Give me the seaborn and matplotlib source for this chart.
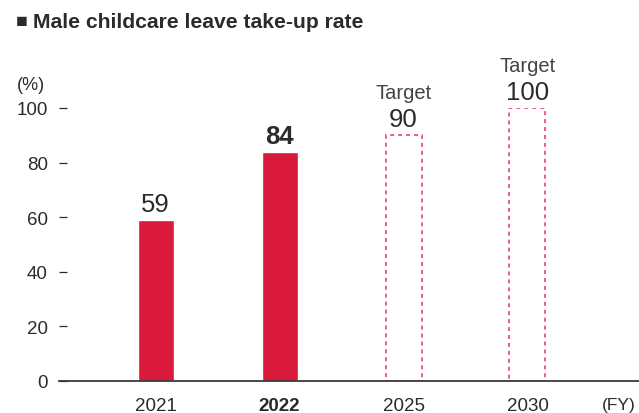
import pandas as pd
import matplotlib
matplotlib.use('Agg')
import matplotlib.pyplot as plt
import seaborn as sns

years = ['2021', '2022', '2025', '2030']
actual_years = ['2021', '2022']
actual_values = [59, 84]
target_years = ['2025', '2030']
target_values = [90, 100]
yticks = [0, 20, 40, 60, 80, 100]

red = '#DA1A3B'
light_red = '#E9536C'
dark = '#2B2B2B'

sns.set_theme(style='white')
plt.rcParams['font.family'] = ['Liberation Sans', 'DejaVu Sans']

actual = pd.DataFrame({'year': actual_years, 'value': actual_values})
target = pd.DataFrame({'year': target_years, 'value': target_values})

fig = plt.figure(figsize=(6.39, 4.14), dpi=100)
ax = fig.add_axes([59 / 639, 1 - 382 / 414, 1 - 59 / 639, (382 - 109) / 414])

sns.barplot(data=actual, x='year', y='value', order=years, color=red,
            width=0.29, saturation=1, ax=ax)
sns.barplot(data=target, x='year', y='value', order=years, color=light_red,
            width=0.29, saturation=1, fill=False, linewidth=1.3,
            linestyle=(0, (2.2, 2.2)), ax=ax)

ax.set_xlim(-0.78, 3.9)
ax.set_ylim(0, 100)
ax.set_yticks(yticks)
ax.set_xlabel('')
ax.set_ylabel('')
for s in ['top', 'right', 'left']:
    ax.spines[s].set_visible(False)
ax.spines['bottom'].set_color('#3A3A3A')
ax.spines['bottom'].set_linewidth(1.3)
ax.tick_params(axis='y', left=True, direction='in', length=6, width=0.9, color=dark,
               pad=8, labelsize=13.5, labelcolor=dark)
ax.tick_params(axis='x', length=0, pad=11.5, labelsize=13.5, labelcolor=dark)
for lbl in ax.get_xticklabels():
    if lbl.get_text() == '2022':
        lbl.set_fontweight('bold')

# value labels
for y, v in zip(actual_years, actual_values):
    ax.annotate(str(v), (years.index(y), v), xytext=(0, 3), textcoords='offset points',
                ha='center', va='bottom', fontsize=18.5, color=dark,
                fontweight='bold' if y == '2022' else 'normal')
for y, v in zip(target_years, target_values):
    ax.annotate(str(v), (years.index(y), v), xytext=(0, 3), textcoords='offset points',
                ha='center', va='bottom', fontsize=18.5, color=dark)
    ax.annotate('Target', (years.index(y), v), xytext=(0, 24), textcoords='offset points',
                ha='center', va='bottom', fontsize=14.5, color='#444444')

ax.annotate('(FY)', (3.74, 0), xytext=(0, -11.5), textcoords='offset points',
            ha='center', va='top', fontsize=12.5, color=dark)

fig.text(16 / 639, 1 - 23 / 414, '\u25A0', fontsize=14, color=dark, va='center', ha='left')
fig.text(33 / 639, 1 - 23 / 414, 'Male childcare leave take-up rate', fontsize=15.2,
         fontweight='bold', color=dark, va='center', ha='left')
fig.text(17 / 639, 1 - 86 / 414, '(%)', fontsize=13, color=dark, va='center', ha='left')

fig.savefig('out.png', dpi=100)
